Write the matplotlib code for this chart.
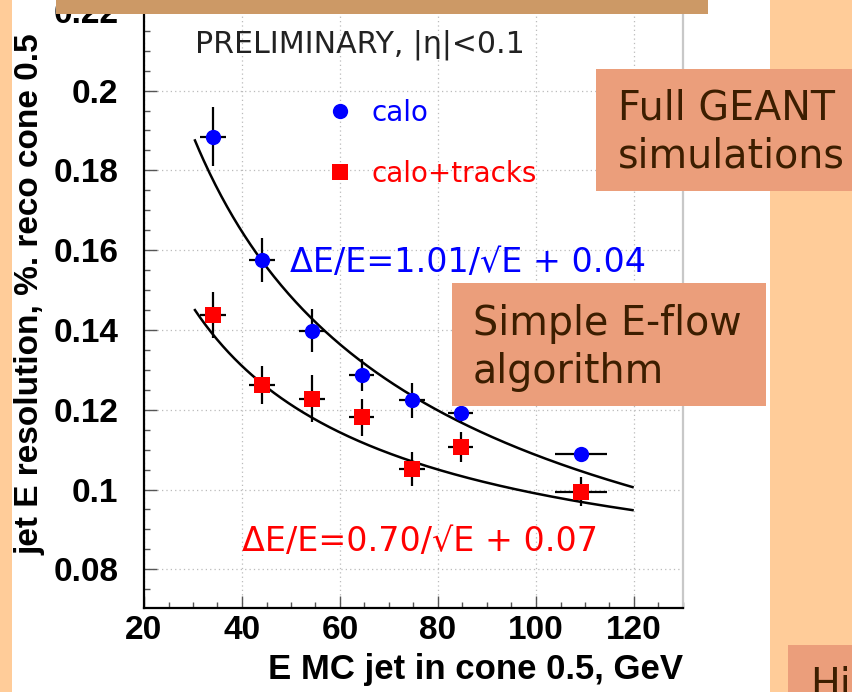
import numpy as np
import matplotlib
matplotlib.use("Agg")
import matplotlib.pyplot as plt
from matplotlib.patches import Rectangle
from matplotlib.lines import Line2D
from matplotlib.ticker import MultipleLocator, FormatStrFormatter

# jet energy resolution vs E MC (cone 0.5, |eta|<0.1)
energy = [34.1, 44.1, 54.3, 64.4, 74.7, 84.6, 109.2]
energy_err = [2.6, 2.6, 2.6, 2.6, 2.6, 2.6, 5.3]

res_calo = [0.1884, 0.1575, 0.1398, 0.1287, 0.1224, 0.1192, 0.1089]
res_calo_err = [0.0074, 0.0056, 0.0054, 0.0040, 0.0044, 0.0025, 0.0015]

res_tracks = [0.1437, 0.1262, 0.1228, 0.1181, 0.1052, 0.1106, 0.0995]
res_tracks_err = [0.0057, 0.0048, 0.0060, 0.0046, 0.0042, 0.0038, 0.0037]

# fit parameters: dE/E = a/sqrt(E) (+) b
fit_calo = (1.01, 0.04)
fit_tracks = (0.70, 0.07)
fit_range = (30.4, 119.7)

W, H = 852, 692
ORANGE = "#FFCC99"
TAN = "#CC9966"
SALMON = "#EB9E7B"
BROWN = "#3C1E00"


def fx(px):
    return px / W


def fy(py):
    return 1 - py / H


fig = plt.figure(figsize=(W / 100, H / 100), dpi=100)
fig.patch.set_facecolor(ORANGE)

# white slide panel
fig.patches.append(Rectangle((fx(12), 0), fx(770) - fx(12), 1,
                             transform=fig.transFigure, facecolor="white",
                             edgecolor="none", zorder=-10))

ax = fig.add_axes([fx(144), fy(608), fx(683) - fx(144), fy(2) - fy(608)])
ax.set_xlim(20, 130)
ax.set_ylim(0.0703, 0.2222)

ax.grid(True, which="major", color="#BBBBBB", linestyle=(0, (1, 2.5)), linewidth=0.9)
ax.set_axisbelow(True)

ax.xaxis.set_major_locator(MultipleLocator(20))
ax.xaxis.set_minor_locator(MultipleLocator(5))
ax.yaxis.set_major_locator(MultipleLocator(0.02))
ax.yaxis.set_minor_locator(MultipleLocator(0.005))
ax.yaxis.set_major_formatter(FormatStrFormatter("%g"))

ax.tick_params(which="both", direction="in", colors="#555555", width=1.0)
ax.tick_params(which="major", length=9)
ax.tick_params(which="minor", length=4.5)
ax.tick_params(axis="x", which="major", pad=5, labelcolor="black")
ax.tick_params(axis="y", which="major", pad=18.5, labelcolor="black")
for lab in ax.get_xticklabels() + ax.get_yticklabels():
    lab.set_fontfamily("Liberation Sans")
    lab.set_fontweight("bold")
    lab.set_fontsize(24)

ax.spines["top"].set_visible(False)
ax.spines["left"].set_linewidth(1.6)
ax.spines["bottom"].set_linewidth(1.6)
ax.spines["right"].set_color("#C8C8C8")
ax.spines["right"].set_linewidth(1.6)

# fit curves
e_fit = np.linspace(fit_range[0], fit_range[1], 300)
for a, b in (fit_calo, fit_tracks):
    ax.plot(e_fit, np.sqrt(a ** 2 / e_fit + b ** 2), color="black", lw=1.8, zorder=3)

# data points with error bars
ax.errorbar(energy, res_calo, xerr=energy_err, yerr=res_calo_err, fmt="o",
            color="#0000FF", ecolor="black", elinewidth=1.6, capsize=0,
            markersize=11, markeredgewidth=0, zorder=4)
ax.errorbar(energy, res_tracks, xerr=energy_err, yerr=res_tracks_err, fmt="s",
            color="#FF0000", ecolor="black", elinewidth=1.6, capsize=0,
            markersize=11, markeredgewidth=0, zorder=4)

handles = [Line2D([], [], marker="o", ls="none", color="#0000FF", markersize=11, mew=0),
           Line2D([], [], marker="s", ls="none", color="#FF0000", markersize=11, mew=0)]
leg = ax.legend(handles, ["calo", "calo+tracks"], loc="upper left",
                bbox_to_anchor=(fx(326), fy(99)), bbox_transform=fig.transFigure,
                frameon=False, borderpad=0, borderaxespad=0, handlelength=1.0,
                handletextpad=0.65, labelspacing=1.17,
                prop={"family": "DejaVu Sans", "size": 20})
for t, c in zip(leg.get_texts(), ["#0000FF", "#FF0000"]):
    t.set_color(c)

txt = dict(family="DejaVu Sans", va="baseline", ha="left")
fig.text(fx(195), fy(53), "PRELIMINARY, |η|<0.1", fontsize=21.6, color="#222222", **txt)
fig.text(fx(290), fy(272), "ΔE/E=%.2f/√E + %.2f" % fit_calo, fontsize=24,
         color="#0000FF", **txt)
fig.text(fx(242), fy(551), "ΔE/E=%.2f/√E + %.2f" % fit_tracks, fontsize=24,
         color="#FF0000", **txt)

# axis titles
fig.text(fx(30), fy(294), "jet E resolution, %. reco cone 0.5", rotation=90,
         ha="center", va="center", fontsize=24, fontweight="bold",
         family="Liberation Sans")
fig.text(fx(476), fy(670), "E MC jet in cone 0.5, GeV", ha="center", va="center",
         fontsize=25, fontweight="bold", family="Liberation Sans")

# slide decorations on top of the plot
fig.patches.append(Rectangle((fx(56), fy(14)), fx(708) - fx(56), fy(0) - fy(14),
                             transform=fig.transFigure, facecolor=TAN,
                             edgecolor="none", zorder=5))
boxes = [
    ((596, 69, 860, 191), ["Full GEANT", "simulations"], (618, 120)),
    ((452, 283, 766, 406), ["Simple E-flow", "algorithm"], (473, 335)),
    ((788, 645, 860, 700), ["Hi"], (810, 697)),
]
for (x0, y0, x1, y1), lines, (tx, ty) in boxes:
    fig.patches.append(Rectangle((fx(x0), fy(y1)), fx(x1) - fx(x0), fy(y0) - fy(y1),
                                 transform=fig.transFigure, facecolor=SALMON,
                                 edgecolor="none", zorder=6))
    for i, line in enumerate(lines):
        fig.text(fx(tx), fy(ty + 48 * i), line, fontsize=28.5, color=BROWN,
                 family="DejaVu Sans", ha="left", va="baseline", zorder=7)

fig.savefig("out.png", dpi=100, facecolor=fig.get_facecolor())
